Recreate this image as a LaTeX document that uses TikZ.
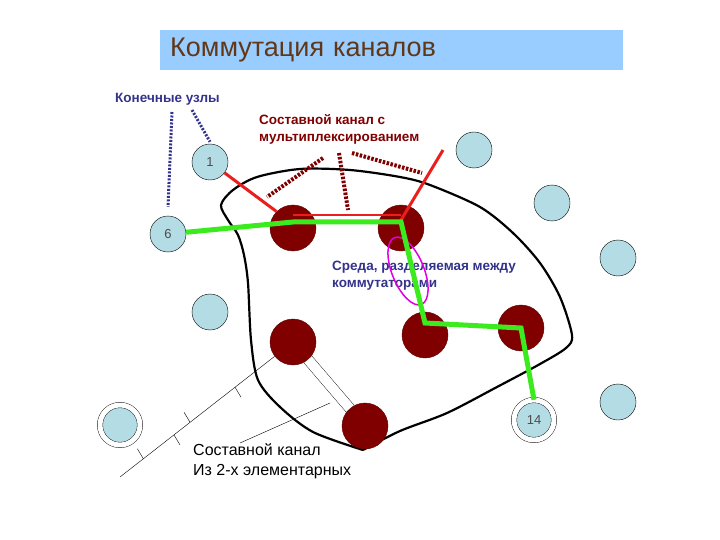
\documentclass[tikz,border=0pt]{standalone}
\usepackage{fontspec}
\setmainfont{Liberation Sans}
\usetikzlibrary{positioning,calc}

\definecolor{titlefill}{RGB}{153,204,255}
\definecolor{titletext}{RGB}{96,56,24}
\definecolor{navy}{RGB}{51,51,140}
\definecolor{chanred}{RGB}{128,0,0}
\definecolor{nodefill}{RGB}{180,220,228}
\definecolor{swfill}{RGB}{128,0,0}
\definecolor{swdraw}{RGB}{90,0,0}
\definecolor{linkred}{RGB}{235,30,30}
\definecolor{pathgreen}{RGB}{60,235,30}
\definecolor{medmag}{RGB}{225,0,225}

\tikzset{
  endnode/.style={circle, draw=black, fill=nodefill, minimum size=36pt, inner sep=0pt,
    font=\fontsize{13}{15}\selectfont, text=black!70},
  endnodeb/.style={endnode, double=white, double distance=5pt, minimum size=40pt},
  switch/.style={circle, draw=swdraw, fill=swfill, minimum size=46pt, inner sep=0pt},
  bluelbl/.style={inner sep=0pt, align=left, text=navy, font=\bfseries\fontsize{13.5}{17}\selectfont},
  redlbl/.style={inner sep=0pt, align=left, text=chanred, font=\bfseries\fontsize{13.5}{17}\selectfont},
  navydot/.style={navy, line width=3pt, dash pattern=on 2pt off 1.5pt},
  reddot/.style={chanred, line width=4pt, dash pattern=on 2.5pt off 1.5pt},
  greenpath/.style={pathgreen, line width=5pt},
}

\begin{document}
\begin{tikzpicture}[x=1pt, y=-1pt]
\useasboundingbox (0,0) rectangle (720,540);

% Title bar
\node[fill=titlefill, anchor=north west, minimum width=463pt, minimum height=40pt,
  text width=443pt, inner xsep=10pt, align=left, text=titletext,
  font=\fontsize{27}{30}\selectfont] (title) at (160,30) {Коммутация каналов};

% Switching domain
\draw[line width=2.2pt] plot[smooth, tension=0.5] coordinates {
  (363,450) (400,431) (447,413) (497,387) (540,364) (566,348) (572,335)
  (560,297) (540,263) (513,233) (480,207) (430,185) (400,177) (350,170)
  (300,169) (257,177) (233,190) (221,205) (228,220) (238,235) (244,255)
  (248,283) (251,340) (258,380) (280,407) (313,432) (363,450)};

% Switches
\node[switch] (swA) at (293,228) {};
\node[switch] (swB) at (401,228) {};
\node[switch] (swC) at (425,335) {};
\node[switch] (swD) at (521,328) {};
\node[switch] (swE) at (293,342) {};
\node[switch] (swF) at (365,426) {};

% End nodes
\node[endnode] (n1) at (210,162) {1};
\node[endnode] (n6) at (168,234) {6};
\node[endnodeb] (n14) at (534,420) {14};
\node[endnodeb] (nbl) at (120,425) {};
\foreach \x/\y [count=\i] in {474/150, 552/203, 618/258, 618/402, 210/312} {
    \node[endnode] (e\i) at (\x,\y) {};
}

% Composite channel of two elementary ones
\draw[double=white, double distance=10pt] (swE) -- (swF);
\coordinate (chend) at (120,477);
\draw (swE) -- (chend);
\draw ($(swE)!0.335!(chend)$) -- ++(6,10);
\draw ($(swE)!0.595!(chend)$) -- ++(-6,-10);
\draw ($(swE)!0.688!(chend)$) -- ++(6,10);
\draw ($(swE)!0.865!(chend)$) -- ++(-6,-10);

% Labels
\node[bluelbl, anchor=west] (endlbl) at (115,99) {Конечные узлы};
\node[redlbl, anchor=west] (muxlbl) at (259,129) {Составной канал с\\мультиплексированием};
\node[bluelbl, anchor=west] (medlbl) at (332,275.5) {Среда, разделяемая между\\коммутаторами};
\node[inner sep=0pt, align=left, anchor=west, font=\fontsize{16}{20}\selectfont]
  (chlbl) at (193,461) {Составной канал\\Из 2-х элементарных};

% Pointers
\coordinate (p1) at (172,112);
\coordinate (p2) at (192,110);
\draw[navydot] (p1) -- ([yshift=9pt]n6.north);
\draw[navydot] (p2) -- ([yshift=2pt]n1.north);
\coordinate (m1) at (323,158);
\coordinate (m2) at (339,153);
\coordinate (m3) at (352,153);
\draw[reddot] (m1) -- (267,197);
\draw[reddot] (m2) -- (348,210);
\draw[reddot] (m3) -- (422,173);
\coordinate (pp) at (330,403);
\draw (240,443) -- (pp);

% Multiplexed channel
\coordinate (redend) at (443,150);
\draw[linkred, line width=3pt] (n1) -- (swA.north west);
\draw[linkred, line width=2pt] ([yshift=13pt]swA.center) -- ([yshift=13pt]swB.center);
\draw[linkred, line width=3pt] ([yshift=8pt]swB.center) -- (redend);

% Shared medium
\draw[medmag, line width=1.5pt, rotate around={22:(408,271)}] (408,271) ellipse (16 and 36);

% Circuit path 6 -> 14
\draw[greenpath] (n6) -- ([yshift=6pt]swA.center) -- ([yshift=6pt]swB.center)
  -- ([yshift=12pt]swC.center) -- (swD.center) -- (n14.north);

\end{tikzpicture}
\end{document}
